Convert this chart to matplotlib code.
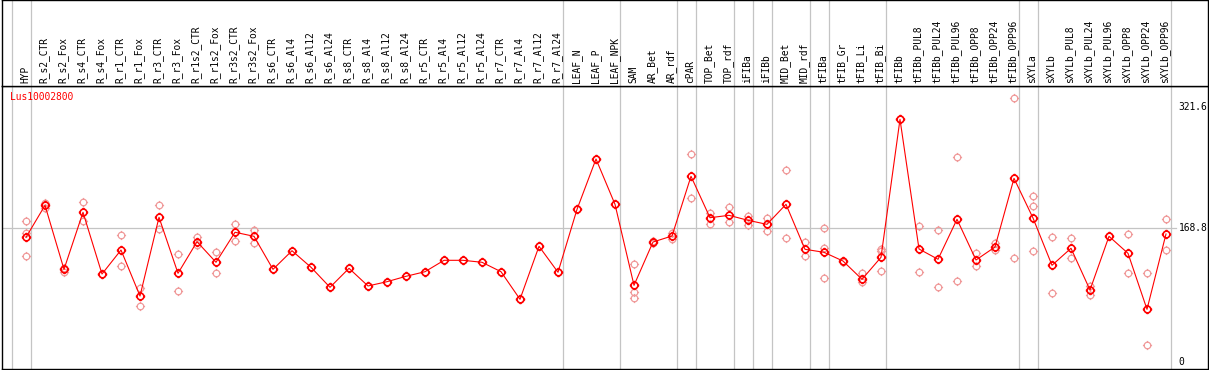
import matplotlib
matplotlib.use("Agg")
import matplotlib.pyplot as plt
from matplotlib.path import Path
import numpy as np

gene = "Lus10002800"
labels = ["HYP", "R_s2_CTR", "R_s2_Fox", "R_s4_CTR", "R_s4_Fox", "R_r1_CTR", "R_r1_Fox",
          "R_r3_CTR", "R_r3_Fox", "R_r1s2_CTR", "R_r1s2_Fox", "R_r3s2_CTR", "R_r3s2_Fox",
          "R_s6_CTR", "R_s6_Al4", "R_s6_Al12", "R_s6_Al24", "R_s8_CTR", "R_s8_Al4",
          "R_s8_Al12", "R_s8_Al24", "R_r5_CTR", "R_r5_Al4", "R_r5_Al12", "R_r5_Al24",
          "R_r7_CTR", "R_r7_Al4", "R_r7_Al12", "R_r7_Al24", "LEAF_N", "LEAF_P", "LEAF_NPK",
          "SAM", "AR_Bet", "AR_rdf", "cPAR", "TOP_Bet", "TOP_rdf", "iFIBa", "iFIBb",
          "MID_Bet", "MID_rdf", "tFIBa", "tFIB_Gr", "tFIB_Li", "tFIB_Bi", "tFIBb",
          "tFIBb_PUL8", "tFIBb_PUL24", "tFIBb_PUL96", "tFIBb_OPP8", "tFIBb_OPP24",
          "tFIBb_OPP96", "sXYLa", "sXYLb", "sXYLb_PUL8", "sXYLb_PUL24", "sXYLb_PUL96",
          "sXYLb_OPP8", "sXYLb_OPP24", "sXYLb_OPP96"]

means = [157.4, 197.8, 117.0, 189.0, 111.1, 141.4, 83.3, 182.7, 112.0, 151.9,
         125.9, 163.8, 158.7, 117.0, 140.5, 119.6, 94.3, 118.3, 96.0, 101.4,
         108.2, 114.0, 128.4, 128.4, 125.9, 114.0, 79.2, 146.1, 113.3, 192.7,
         256.3, 199.1, 96.8, 151.5, 159.1, 234.5, 182.2, 185.2, 178.9, 173.8,
         199.1, 142.3, 138.5, 127.5, 104.4, 132.2, 306.4, 142.7, 129.7, 180.2,
         128.8, 145.2, 231.9, 181.8, 122.1, 143.6, 90.9, 158.7, 137.2, 66.5, 161.6]

replicates = [
    [177.6, 163.3, 133.8], [201.1, 194.1], [119.1, 113.6], [202.0, 177.6], [111.1],
    [160.0, 121.2], [93.0, 71.1], [197.8, 167.5], [136.0, 89.3], [158.2, 147.7],
    [138.5, 112.8], [174.2, 153.2], [166.7, 150.6], [117.0], [140.5],
    [119.6], [94.3], [118.3], [96.0], [101.4],
    [108.2], [114.0], [128.4], [128.4], [125.9],
    [114.0], [79.2], [146.1], [113.3], [192.7],
    [256.3], [199.1], [123.3, 88.8, 80.4], [153.2, 149.8], [163.3, 155.7],
    [262.6, 206.7], [188.5, 174.2], [195.7, 176.4], [184.3, 173.4], [182.2, 165.0],
    [242.4, 156.2], [151.5, 134.2], [168.8, 143.6, 105.7], [127.5, 126.8], [112.8, 100.6],
    [143.1, 140.5, 114.5], [306.4], [171.3, 113.3], [166.3, 94.3], [258.5, 102.3],
    [137.6, 120.8], [149.9, 141.0], [333.0, 130.9], [209.2, 196.6, 139.8], [157.8, 86.7],
    [156.2, 130.9], [96.3, 85.0], [158.7], [161.6, 112.4], [112.4, 21.1], [180.2, 141.4],
]

separators_after = [0, 1, 29, 32, 35, 36, 38, 39, 40, 42, 43, 46, 53, 54, 61]
ytick_vals = [321.6, 168.8, 0]
grid_val = 168.8

W, H = 1209, 370
fig = plt.figure(figsize=(W / 100, H / 100), dpi=100)

# pixel geometry: column k at px 7 + 19k ; value v at row 362 - 0.792 v
x0, dx = 7.0, 19.0
def px2k(p):
    return (p - x0) / dx
y0, dy = 362.0, 0.792
def row2v(r):
    return (y0 - r) / dy

left_px, right_px = 1.5, 1207.5
top_px, sep_px, bot_px = 0.0, 85.5, 368.5

ax = fig.add_axes([left_px / W, (H - bot_px) / H, (right_px - left_px) / W, (bot_px - sep_px) / H])
axh = fig.add_axes([left_px / W, (H - sep_px) / H, (right_px - left_px) / W, sep_px / H])

xlim = (px2k(left_px), px2k(right_px))
ax.set_xlim(*xlim)
ax.set_ylim(row2v(bot_px), row2v(sep_px))
axh.set_xlim(*xlim)
axh.set_ylim(sep_px, 0)

for a in (ax, axh):
    a.set_xticks([])
    a.set_yticks([])
    for s in a.spines.values():
        s.set_color("black")
        s.set_linewidth(1.0)

mono = "DejaVu Sans Mono"
fs = 6.9
grey = "#c4c4c4"

sep_off = 0.237
for k in separators_after:
    for a in (ax, axh):
        a.axvline(k + sep_off, color=grey, lw=0.9, zorder=1)

ax.plot([xlim[0], px2k(1176)], [grid_val, grid_val], color=grey, lw=0.9, zorder=1)

# marker: circle with four short ticks
t = np.linspace(0, 2 * np.pi, 33)
circ = Path(np.column_stack([np.cos(t), np.sin(t)]))
ticks = []
for ang in (0, np.pi / 2, np.pi, 3 * np.pi / 2):
    c, s = np.cos(ang), np.sin(ang)
    ticks.append(Path([[c, s], [1.4 * c, 1.4 * s]], [Path.MOVETO, Path.LINETO]))
mk = Path.make_compound_path(circ, *ticks)

xs = np.arange(1, len(labels) + 1)
rx, ry = [], []
for k, reps in zip(xs, replicates):
    for r in reps:
        rx.append(k)
        ry.append(r)
ax.plot(rx, ry, linestyle="none", marker=mk, markersize=6.6, markerfacecolor="none",
        markeredgecolor="#f09a9a", markeredgewidth=0.9, zorder=2)
ax.plot(xs, means, color="red", lw=0.8, zorder=3)
ax.plot(xs, means, linestyle="none", marker=mk, markersize=6.8, markerfacecolor="none",
        markeredgecolor="red", markeredgewidth=1.2, zorder=4)

for k, lab in zip(xs, labels):
    axh.text(k - 0.05, 83.0, lab, rotation=90, ha="center", va="bottom",
             fontsize=fs, family=mono, color="black")

ax.text(px2k(10), row2v(97), gene, ha="left", va="center", fontsize=fs, family=mono, color="red")

for v in ytick_vals:
    ax.text(px2k(1178.5), v, f"{v:g}", ha="left", va="center", fontsize=fs, family=mono,
            color="black", clip_on=True)

fig.savefig("out.png", dpi=100)
